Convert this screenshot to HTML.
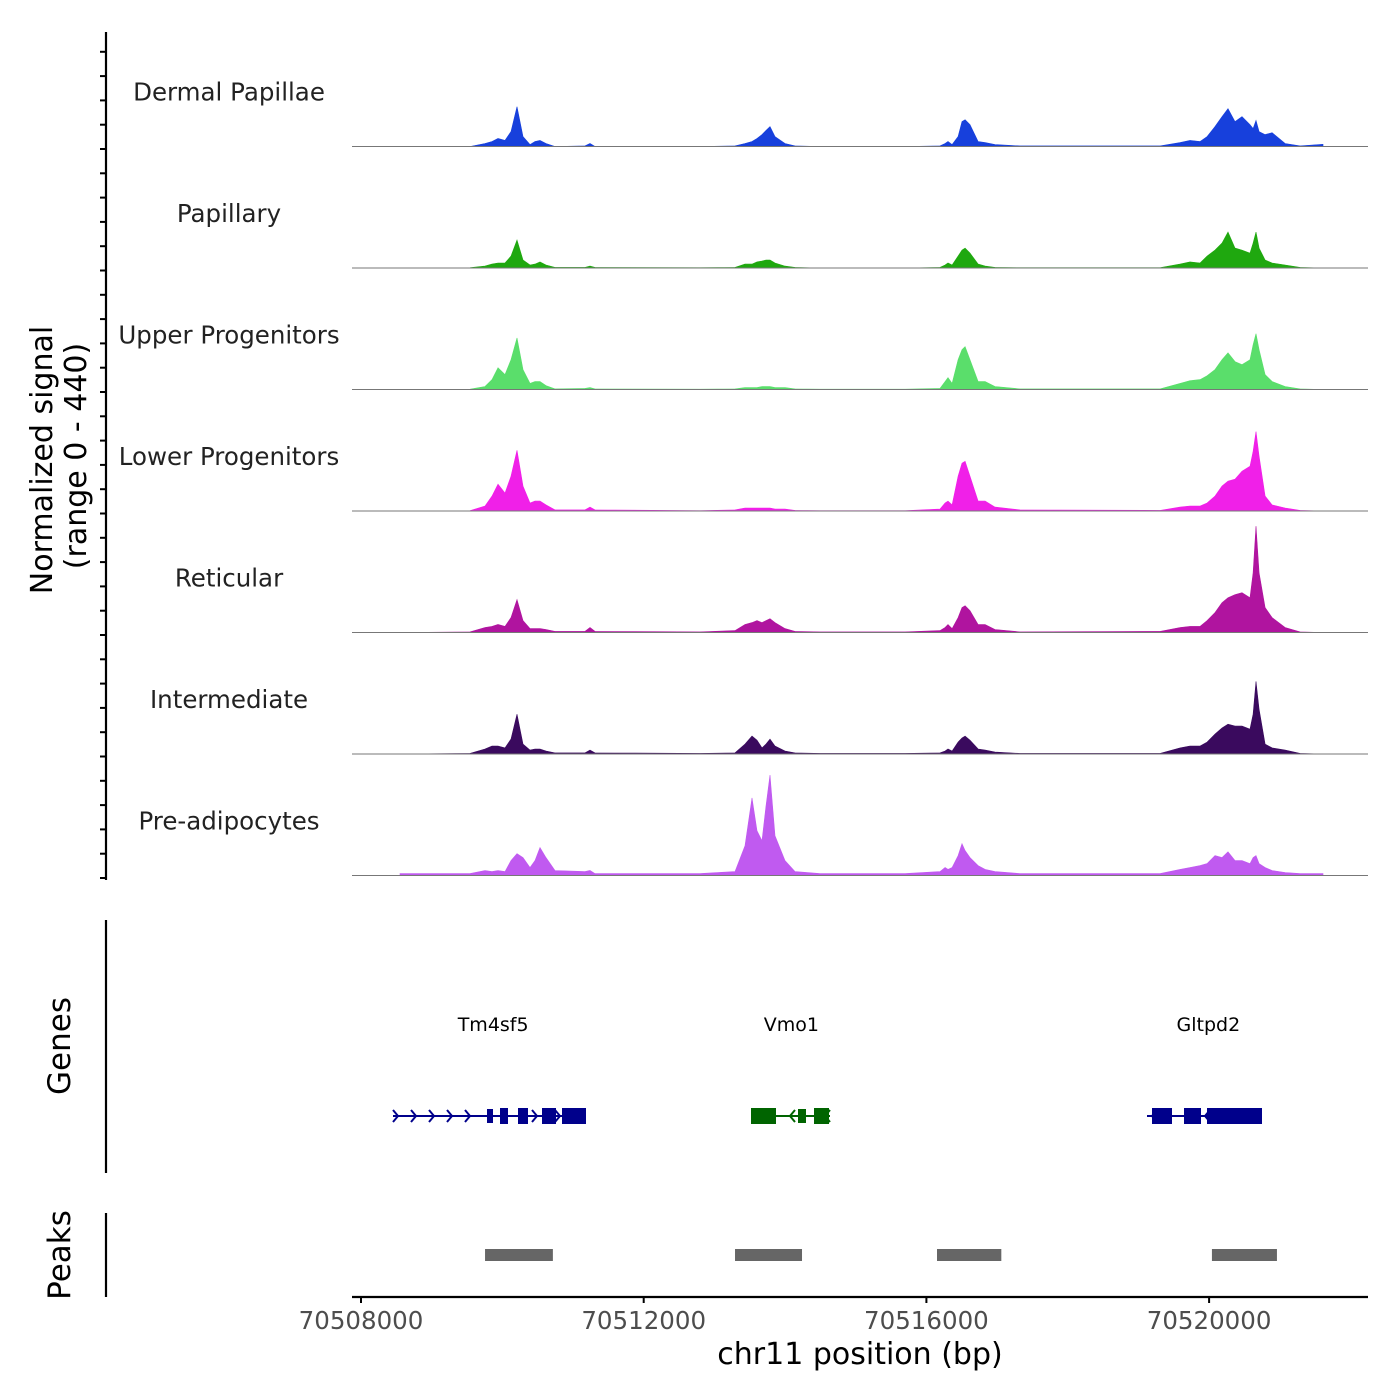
<!DOCTYPE html>
<html><head><meta charset="utf-8"><style>
html,body{margin:0;padding:0;background:#fff;}
svg{display:block;font-family:"DejaVu Sans","Liberation Sans",sans-serif;}
</style></head><body>
<svg id="chart" width="1400" height="1400" viewBox="0 0 1400 1400" xmlns="http://www.w3.org/2000/svg">
<g id="tracks"></g>
<g id="leftaxis"></g>
<text transform="translate(52,460) rotate(-90)" text-anchor="middle" font-size="30" fill="#000">Normalized signal</text>
<text transform="translate(86,456) rotate(-90)" text-anchor="middle" font-size="30" fill="#000">(range 0 - 440)</text>
<g>
<line x1="106" y1="920" x2="106" y2="1173" stroke="#000" stroke-width="2.2"/>
<text transform="translate(70,1046) rotate(-90)" text-anchor="middle" font-size="31">Genes</text>
<g id="genes"></g>
</g>
<g>
<line x1="106" y1="1213" x2="106" y2="1297" stroke="#000" stroke-width="2.2"/>
<text transform="translate(70,1255) rotate(-90)" text-anchor="middle" font-size="31">Peaks</text>
<g id="peaks"></g>
</g>
<g id="xaxis"></g>
<text x="860" y="1364" text-anchor="middle" font-size="30" fill="#000">chr11 position (bp)</text>
</svg>
<script>
const positions=[70508552,70509542,70509755,70509854,70509939,70510038,70510123,70510207,70510292,70510391,70510462,70510533,70510618,70510745,70511170,70511240,70511311,70512797,70513292,70513434,70513533,70513603,70513674,70513731,70513787,70513858,70514000,70514141,70514495,70515698,70516193,70516264,70516306,70516363,70516448,70516504,70516547,70516617,70516731,70516830,70516971,70517325,70519306,70519589,70519730,70519872,70519971,70520084,70520183,70520268,70520367,70520466,70520579,70520622,70520664,70520707,70520792,70520891,70521075,70521287,70521612];
const trackNames=["Dermal Papillae","Papillary","Upper Progenitors","Lower Progenitors","Reticular","Intermediate","Pre-adipocytes"];
const trackColors=["#1740dc","#1fa80f","#5ade6b","#f020e8","#b0149f","#3a0a5e","#c05af0"];
const dermalPapillae=[0,0,11,18,29,22,54,144,36,7,18,22,11,0,2,11,0,0,2,11,18,29,43,58,72,36,11,2,0,0,2,11,18,7,36,90,97,79,18,14,7,2,2,14,22,18,36,72,108,137,90,108,79,65,94,54,43,50,11,2,8];
const papillary=[0,1,7,14,18,18,43,101,29,11,14,22,11,2,2,7,2,1,2,14,14,22,25,29,29,18,7,2,0,0,2,11,18,11,43,65,72,54,14,7,2,1,1,14,22,18,43,65,90,130,72,65,54,90,130,72,29,18,11,2,0];
const upperProgenitors=[0,1,11,36,79,54,108,187,72,22,29,29,14,2,4,7,2,1,2,7,7,7,11,11,11,7,7,2,1,1,4,29,43,22,108,144,155,108,29,29,11,2,2,22,32,36,50,72,108,133,101,90,108,162,202,144,54,29,11,2,0];
const lowerProgenitors=[0,1,18,54,97,65,126,220,90,29,36,36,22,4,4,14,4,1,4,11,11,11,11,11,11,7,7,2,1,1,7,29,36,22,126,173,180,126,36,36,14,4,2,14,18,18,29,54,90,108,115,144,162,216,288,198,54,22,11,2,0];
const reticular=[0,2,18,22,29,22,54,119,43,14,14,14,11,4,4,18,4,2,7,29,36,43,36,43,50,36,14,4,2,2,7,18,29,14,54,90,97,79,29,29,11,2,4,18,22,22,43,72,108,126,137,144,126,216,385,216,90,54,18,2,0];
const intermediate=[0,2,18,29,29,22,54,144,36,14,18,18,11,4,4,14,4,2,4,36,65,50,22,36,54,29,11,4,2,2,4,11,18,11,43,58,65,50,18,14,7,2,2,22,29,29,43,72,94,108,101,101,90,144,263,162,36,22,14,2,0];
const preAdipocytes=[7,7,18,14,18,14,54,79,65,29,54,101,65,18,14,18,7,7,14,108,281,162,126,252,364,144,54,14,7,7,14,29,22,29,72,115,90,65,36,22,14,7,7,22,29,36,43,72,65,86,54,54,43,65,72,43,29,18,11,7,7];
const trackValues=[dermalPapillae,papillary,upperProgenitors,lowerProgenitors,reticular,intermediate,preAdipocytes];
const xTicks=[70508000,70512000,70516000,70520000];
const xTickLabels=["70508000","70512000","70516000","70520000"];
const peakStarts=[70509755,70513292,70516150,70520040];
const peakEnds=[70510715,70514240,70517060,70520960];
const geneNames=["Tm4sf5","Vmo1","Gltpd2"];
const geneLabelPos=[70509870,70514090,70519990];

const NS="http://www.w3.org/2000/svg";
const X0=361, BP0=70508000, PXPERBP=282.7/4000;
function xs(bp){return X0+(bp-BP0)*PXPERBP;}
const trackTop=25, trackH=121.5, YMAX=440;
function ys(i,v){return trackTop+trackH*(i+1)-(v/YMAX)*trackH;}
function mk(tag,attrs,parent){const e=document.createElementNS(NS,tag);for(const k in attrs)e.setAttribute(k,attrs[k]);parent.appendChild(e);return e;}

const tg=document.getElementById('tracks');
trackNames.forEach((name,i)=>{
  const g=mk('g',{},tg);
  
  
  const base=ys(i,0);
  let d='M'+xs(positions[0])+','+base;
  positions.forEach((p,j)=>{d+=' L'+xs(p).toFixed(1)+','+ys(i,trackValues[i][j]||0).toFixed(1);});
  d+=' L'+xs(positions[positions.length-1])+','+base+' Z';
  const a=mk('path',{d:d,fill:trackColors[i],stroke:trackColors[i],'stroke-width':0.6},g);
  
  
  const bl=mk('line',{x1:352,x2:1368,y1:base,y2:base,stroke:'#777','stroke-width':1},g);
  
  
  const t=mk('text',{x:229,y:base-46,'text-anchor':'middle','font-size':24.5,fill:'#222'},g);
  t.textContent=name;
  
  
});

const la=document.getElementById('leftaxis');
mk('line',{x1:106,x2:106,y1:32,y2:880,stroke:'#000','stroke-width':2.2},la);
for(let y=878;y>=34;y-=24.3){const tk=mk('line',{x1:100,x2:106,y1:y,y2:y,stroke:'#000','stroke-width':2},la);
  
  }

const gg=document.getElementById('genes');
function gene(name,color,x1,x2,exons,arrows,dir){
  const g=mk('g',{},gg);
  
  
  mk('line',{x1:x1,x2:x2,y1:1116,y2:1116,stroke:color,'stroke-width':2},g);
  exons.forEach(e=>mk('rect',{x:e[0],y:1116-e[2]/2,width:e[1]-e[0],height:e[2],fill:color},g));
  arrows.forEach(a=>{const s=dir>0?-5:5;mk('polyline',{points:(a+s)+',1110 '+a+',1116 '+(a+s)+',1122',fill:'none',stroke:color,'stroke-width':2},g);});
}
gene('Tm4sf5','#00008b',393,586,[[487,493,14],[500,508,16],[518,528,16],[542,556,16],[562,586,16]],[398,416,434,452,470,537,560],1);
gene('Vmo1','#006400',751,830,[[751,776,16],[798,806,14],[814,829,16]],[790,825],-1);
gene('Gltpd2','#00008b',1147,1262,[[1152,1172,16],[1184,1201,16],[1207,1262,16]],[1152,1205],-1);
geneNames.forEach((n,i)=>{const t=mk('text',{x:xs(geneLabelPos[i]),y:1031,'text-anchor':'middle','font-size':19,fill:'#000'},gg);
  t.textContent=n;
  
  });

const pg=document.getElementById('peaks');
peakStarts.forEach((s,i)=>{const r=mk('rect',{x:xs(s),y:1249,width:xs(peakEnds[i])-xs(s),height:12,fill:'#666'},pg);
  
  });

const xa=document.getElementById('xaxis');
mk('line',{x1:352,x2:1368,y1:1297,y2:1297,stroke:'#000','stroke-width':2.2},xa);
xTicks.forEach((b,i)=>{
  const tk=mk('line',{x1:xs(b),x2:xs(b),y1:1297,y2:1303,stroke:'#000','stroke-width':2},xa);
  
  
  const t=mk('text',{x:xs(b),y:1329,'text-anchor':'middle','font-size':24.5,fill:'#4d4d4d'},xa);
  t.textContent=xTickLabels[i];
  
  
});
</script>
</body></html>
